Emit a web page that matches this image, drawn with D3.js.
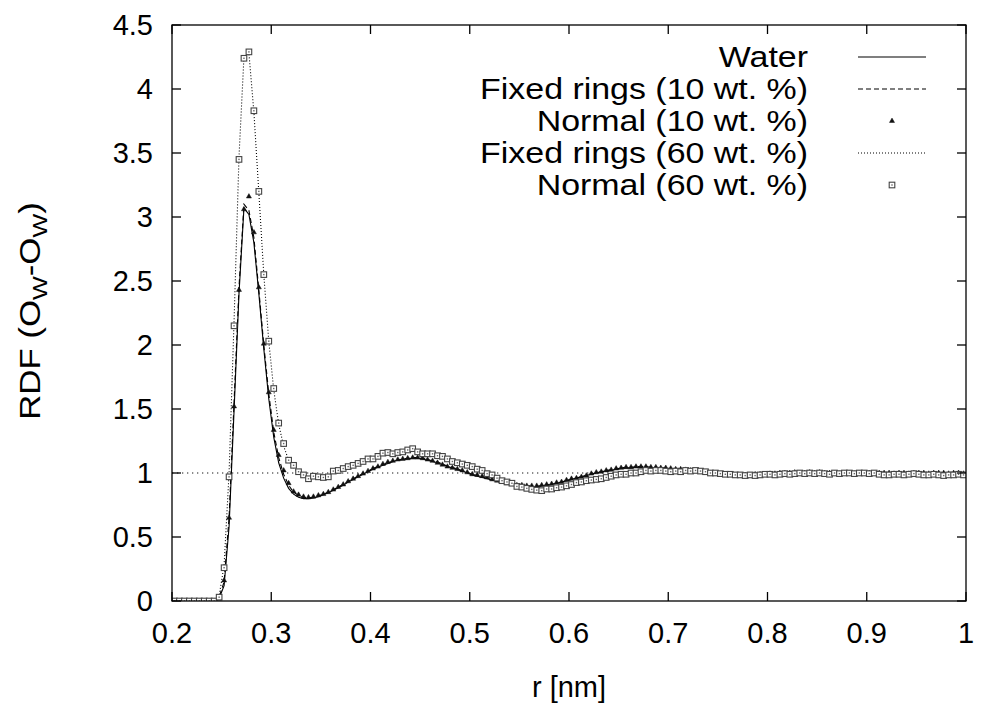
<!DOCTYPE html>
<html>
<head>
<meta charset="utf-8">
<script src="https://cdn.jsdelivr.net/npm/d3@7"></script>
<style>
  body { margin: 0; background: #fff; }
  svg { display: block; font-family: "Liberation Sans", Arial, Helvetica, sans-serif; }
</style>
</head>
<body>
<svg id="chart" width="981" height="709"></svg>
<script>
// bin centres of the RDF histogram (0.005 nm bins)
var rGrid = d3.range(160).map(function (i) { return 0.2025 + i * 0.005; });

var water = [
  0, 0, 0, 0, 0, 0, 0, 0, 0, 0.02,
  0.12, 0.58, 1.48, 2.40, 3.07, 3.02, 2.80, 2.40, 1.97, 1.58,
  1.28, 1.08, 0.96, 0.88, 0.835, 0.81, 0.80, 0.80, 0.805, 0.815,
  0.83, 0.845, 0.865, 0.885, 0.905, 0.93, 0.95, 0.97, 0.99, 1.01,
  1.03, 1.045, 1.06, 1.075, 1.09, 1.10, 1.105, 1.11, 1.115, 1.115,
  1.11, 1.10, 1.09, 1.08, 1.065, 1.05, 1.04, 1.025, 1.015, 1.0,
  0.985, 0.975, 0.965, 0.955, 0.945, 0.935, 0.925, 0.915, 0.91, 0.905,
  0.90, 0.895, 0.895, 0.895, 0.90, 0.905, 0.91, 0.92, 0.93, 0.94,
  0.95, 0.96, 0.97, 0.98, 0.99, 1.0, 1.01, 1.015, 1.02, 1.03,
  1.035, 1.04, 1.04, 1.045, 1.045, 1.045, 1.04, 1.04, 1.035, 1.035,
  1.03, 1.025, 1.025, 1.02, 1.015, 1.01, 1.005, 1.0, 1.0, 0.995,
  0.99, 0.99, 0.99, 0.985, 0.985, 0.985, 0.985, 0.985, 0.99, 0.99,
  0.99, 0.995, 0.995, 1.0, 1.0, 1.0, 1.005, 1.0, 1.005, 1.005,
  1.0, 1.0, 1.005, 1.0, 1.0, 1.0, 0.995, 1.0, 1.0, 0.995,
  1.0, 1.0, 1.0, 0.995, 1.0, 1.0, 0.995, 1.0, 1.0, 1.0,
  0.995, 1.0, 0.995, 1.0, 1.0, 0.995, 1.0, 1.0, 0.995, 1.0
];

var fixed10 = [
  0, 0, 0, 0, 0, 0, 0, 0, 0, 0.03,
  0.15, 0.65, 1.55, 2.45, 3.10, 3.05, 2.84, 2.43, 2.0, 1.62,
  1.32, 1.12, 0.99, 0.905, 0.85, 0.825, 0.81, 0.805, 0.81, 0.82,
  0.835, 0.85, 0.87, 0.89, 0.91, 0.935, 0.955, 0.975, 0.995, 1.015,
  1.035, 1.05, 1.065, 1.08, 1.09, 1.10, 1.11, 1.115, 1.12, 1.12,
  1.115, 1.105, 1.095, 1.085, 1.07, 1.055, 1.045, 1.03, 1.02, 1.005,
  0.99, 0.98, 0.97, 0.955, 0.945, 0.935, 0.925, 0.915, 0.91, 0.905,
  0.90, 0.895, 0.895, 0.895, 0.90, 0.905, 0.91, 0.92, 0.93, 0.94,
  0.95, 0.96, 0.97, 0.98, 0.99, 1.0, 1.01, 1.02, 1.025, 1.03,
  1.04, 1.045, 1.045, 1.05, 1.05, 1.05, 1.045, 1.045, 1.04, 1.04,
  1.035, 1.03, 1.025, 1.02, 1.015, 1.01, 1.005, 1.0, 1.0, 0.995,
  0.99, 0.99, 0.985, 0.985, 0.985, 0.985, 0.985, 0.99, 0.99, 0.99,
  0.995, 0.995, 1.0, 1.0, 1.0, 1.005, 1.005, 1.0, 1.005, 1.0,
  1.0, 1.005, 1.0, 1.0, 1.0, 0.995, 1.0, 1.0, 0.995, 1.0,
  1.0, 1.0, 0.995, 1.0, 1.0, 0.995, 1.0, 1.0, 1.0, 0.995,
  1.0, 0.995, 1.0, 1.0, 0.995, 1.0, 1.0, 0.995, 1.0, 1.0
];

var normal10 = [
  0, 0, 0, 0, 0, 0, 0, 0, 0, 0.02,
  0.16, 0.65, 1.52, 2.43, 3.06, 3.16, 2.88, 2.45, 2.01, 1.63,
  1.336, 1.14, 1.02, 0.92, 0.855, 0.83, 0.815, 0.81, 0.815, 0.825,
  0.835, 0.85, 0.87, 0.89, 0.91, 0.935, 0.955, 0.975, 0.995, 1.015,
  1.035, 1.05, 1.07, 1.085, 1.095, 1.105, 1.11, 1.115, 1.12, 1.12,
  1.115, 1.105, 1.095, 1.08, 1.065, 1.05, 1.04, 1.03, 1.02, 1.005,
  0.99, 0.985, 0.975, 0.965, 0.95, 0.94, 0.93, 0.92, 0.915, 0.905,
  0.905, 0.90, 0.90, 0.90, 0.905, 0.91, 0.915, 0.925, 0.93, 0.945,
  0.955, 0.96, 0.97, 0.98, 0.995, 1.005, 1.01, 1.02, 1.025, 1.035,
  1.04, 1.045, 1.045, 1.05, 1.05, 1.05, 1.045, 1.045, 1.04, 1.04,
  1.035, 1.03, 1.03, 1.025, 1.02, 1.015, 1.01, 1.005, 1.0, 0.995,
  0.99, 0.99, 0.985, 0.985, 0.985, 0.985, 0.985, 0.99, 0.99, 0.99,
  0.995, 0.995, 1.0, 1.0, 1.0, 1.005, 1.0, 1.0, 1.005, 1.0,
  1.005, 1.0, 1.0, 1.0, 0.995, 1.0, 1.0, 0.995, 1.0, 1.0,
  1.0, 0.995, 1.0, 1.0, 1.0, 0.995, 1.0, 1.0, 0.995, 1.0,
  1.0, 1.0, 0.995, 1.0, 1.0, 1.0, 0.995, 1.0, 1.0, 0.995
];

var fixed60 = [
  0, 0, 0, 0, 0, 0, 0, 0, 0, 0.04,
  0.28, 1.0, 2.18, 3.47, 4.25, 4.28, 3.82, 3.19, 2.55, 2.03,
  1.65, 1.38, 1.21, 1.10, 1.04, 1.0, 0.98, 0.97, 0.97, 0.97,
  0.975, 0.985, 1.0, 1.015, 1.03, 1.045, 1.06, 1.075, 1.09, 1.105,
  1.115, 1.13, 1.14, 1.15, 1.16, 1.165, 1.17, 1.175, 1.175, 1.17,
  1.165, 1.155, 1.145, 1.135, 1.12, 1.105, 1.09, 1.075, 1.06, 1.045,
  1.03, 1.015, 1.0, 0.985, 0.97, 0.955, 0.94, 0.93, 0.915, 0.905,
  0.895, 0.885, 0.88, 0.875, 0.875, 0.875, 0.88, 0.885, 0.89, 0.90,
  0.91, 0.92, 0.93, 0.94, 0.95, 0.955, 0.965, 0.975, 0.98, 0.99,
  0.995, 1.0, 1.005, 1.01, 1.015, 1.02, 1.02, 1.025, 1.025, 1.02,
  1.02, 1.02, 1.015, 1.015, 1.015, 1.01, 1.01, 1.005, 1.0, 1.0,
  0.995, 0.99, 0.99, 0.985, 0.985, 0.985, 0.985, 0.985, 0.99, 0.99,
  0.99, 0.99, 0.995, 0.995, 0.995, 1.0, 1.0, 1.0, 1.0, 1.0,
  1.0, 1.0, 0.995, 1.0, 1.0, 1.0, 0.995, 1.0, 1.0, 0.995,
  0.995, 0.995, 0.99, 0.99, 0.99, 0.99, 0.99, 0.99, 0.99, 0.99,
  0.99, 0.99, 0.985, 0.99, 0.985, 0.985, 0.99, 0.985, 0.99, 0.99
];

var normal60 = [
  0, 0, 0, 0, 0, 0, 0, 0, 0, 0.03,
  0.26, 0.97, 2.15, 3.45, 4.24, 4.29, 3.83, 3.2, 2.55, 2.03,
  1.66, 1.39, 1.23, 1.10, 1.06, 1.01, 0.985, 0.955, 0.975, 0.97,
  0.965, 0.97, 1.015, 1.02, 1.035, 1.05, 1.06, 1.075, 1.09, 1.11,
  1.11, 1.13, 1.155, 1.16, 1.15, 1.16, 1.165, 1.18, 1.19, 1.165,
  1.15, 1.15, 1.15, 1.135, 1.13, 1.11, 1.09, 1.08, 1.07, 1.06,
  1.05, 1.03, 1.02, 0.995, 0.985, 0.96, 0.94, 0.93, 0.92, 0.895,
  0.89, 0.88, 0.872, 0.866, 0.862, 0.875, 0.875, 0.885, 0.89, 0.90,
  0.91, 0.925, 0.93, 0.94, 0.945, 0.95, 0.955, 0.965, 0.975, 0.985,
  0.99, 0.99, 1.0, 1.0, 1.01, 1.02, 1.015, 1.02, 1.02, 1.015,
  1.01, 1.015, 1.01, 1.02, 1.015, 1.02, 1.015, 1.01, 1.0, 1.0,
  0.995, 0.99, 0.99, 0.985, 0.985, 0.98, 0.985, 0.98, 0.985, 0.99,
  0.99, 0.985, 0.99, 0.995, 0.99, 0.995, 1.0, 0.995, 1.0, 0.995,
  1.0, 0.995, 0.99, 1.0, 0.995, 1.0, 1.0, 0.995, 1.0, 1.0,
  0.995, 1.0, 0.99, 0.985, 0.985, 0.99, 0.99, 0.985, 0.99, 0.995,
  0.99, 0.985, 0.985, 0.99, 0.985, 0.98, 0.985, 0.985, 0.99, 0.985
];

var xTicks = [0.2, 0.3, 0.4, 0.5, 0.6, 0.7, 0.8, 0.9, 1];
var yTicks = [0, 0.5, 1, 1.5, 2, 2.5, 3, 3.5, 4, 4.5];

var series = [
  { name: "Water", values: water, kind: "line", dash: null },
  { name: "Fixed rings (10 wt. %)", values: fixed10, kind: "line", dash: "5,3" },
  { name: "Normal (10 wt. %)", values: normal10, kind: "triangle" },
  { name: "Fixed rings (60 wt. %)", values: fixed60, kind: "line", dash: "1,2" },
  { name: "Normal (60 wt. %)", values: normal60, kind: "square" }
];

var margin = { left: 172, right: 15, top: 25, bottom: 108 };
var svg = d3.select("#chart");
var W = +svg.attr("width"), H = +svg.attr("height");
var width = W - margin.left - margin.right;
var height = H - margin.top - margin.bottom;

var x = d3.scaleLinear().domain([0.2, 1]).range([0, width]);
var y = d3.scaleLinear().domain([0, 4.5]).range([height, 0]);

var g = svg.append("g").attr("transform", "translate(" + margin.left + "," + margin.top + ")");

g.append("defs").append("clipPath").attr("id", "clip")
  .append("rect").attr("width", width).attr("height", height);

// reference line at g(r) = 1
g.append("line")
  .attr("x1", 0).attr("x2", width)
  .attr("y1", y(1)).attr("y2", y(1))
  .attr("stroke", "#666").attr("stroke-width", 1.3)
  .attr("stroke-dasharray", "1.3,3.7");

var plot = g.append("g").attr("clip-path", "url(#clip)");

var line = d3.line()
  .x(function (d, i) { return x(rGrid[i]); })
  .y(function (d) { return y(d); });

function drawTriangle(sel) {
  sel.append("path")
    .attr("d", d3.symbol().type(d3.symbolTriangle).size(11))
    .attr("fill", "#111").attr("stroke", "#111").attr("stroke-width", 0.5);
}
function drawSquare(sel) {
  sel.append("rect")
    .attr("x", -2.8).attr("y", -2.8).attr("width", 5.6).attr("height", 5.6)
    .attr("fill", "#fff").attr("stroke", "#444").attr("stroke-width", 1.1);
  sel.append("rect")
    .attr("x", -0.7).attr("y", -0.7).attr("width", 1.4).attr("height", 1.4)
    .attr("fill", "#666");
}

series.forEach(function (s) {
  if (s.kind === "line") {
    plot.append("path")
      .datum(s.values)
      .attr("fill", "none")
      .attr("stroke", "#000")
      .attr("stroke-width", 1.1)
      .attr("stroke-dasharray", s.dash)
      .attr("d", line);
  } else {
    var pts = plot.append("g").selectAll("g")
      .data(s.values)
      .enter().append("g")
      .attr("transform", function (d, i) { return "translate(" + x(rGrid[i]) + "," + y(d) + ")"; });
    if (s.kind === "triangle") drawTriangle(pts); else drawSquare(pts);
  }
});

// frame and mirrored inward ticks
var tickLen = 9;
var frame = g.append("g").attr("stroke", "#000").attr("stroke-width", 1.3);
frame.append("rect").attr("width", width).attr("height", height).attr("fill", "none");
xTicks.forEach(function (t) {
  frame.append("line").attr("x1", x(t)).attr("x2", x(t)).attr("y1", height).attr("y2", height - tickLen);
  frame.append("line").attr("x1", x(t)).attr("x2", x(t)).attr("y1", 0).attr("y2", tickLen);
});
yTicks.forEach(function (t) {
  frame.append("line").attr("x1", 0).attr("x2", tickLen).attr("y1", y(t)).attr("y2", y(t));
  frame.append("line").attr("x1", width).attr("x2", width - tickLen).attr("y1", y(t)).attr("y2", y(t));
});

var fontSize = 29;
g.append("g").selectAll("text")
  .data(xTicks).enter().append("text")
  .attr("x", function (d) { return x(d); })
  .attr("y", height + 42)
  .attr("text-anchor", "middle")
  .attr("font-size", fontSize)
  .text(function (d) { return d3.format("")(d); });

g.append("g").selectAll("text")
  .data(yTicks).enter().append("text")
  .attr("x", -19)
  .attr("y", function (d) { return y(d); })
  .attr("dy", "0.35em")
  .attr("text-anchor", "end")
  .attr("font-size", fontSize)
  .text(function (d) { return d3.format("")(d); });

svg.append("text")
  .attr("x", margin.left + width / 2)
  .attr("y", 697)
  .attr("text-anchor", "middle")
  .attr("font-size", fontSize)
  .text("r [nm]");

var yl = svg.append("text")
  .attr("transform", "translate(40," + (margin.top + height / 2 - 2) + ") rotate(-90) scale(1.2,1)")
  .attr("text-anchor", "middle")
  .attr("font-size", fontSize);
yl.append("tspan").text("RDF (O");
yl.append("tspan").attr("font-size", 21).attr("dy", 7).text("W");
yl.append("tspan").attr("dy", -7).text("-O");
yl.append("tspan").attr("font-size", 21).attr("dy", 7).text("W");
yl.append("tspan").attr("dy", -7).text(")");

// key, top right (text is a little wider than the axis labels)
var key = svg.append("g");
var keyFont = 29, keyStretch = 1.17;
var keyTextX = 808, keyX1 = 858, keyX2 = 926, keyY0 = 57, keyStep = 32;
series.forEach(function (s, i) {
  var ky = keyY0 + i * keyStep;
  key.append("text")
    .attr("transform", "translate(" + keyTextX + "," + ky + ") scale(" + keyStretch + ",1)")
    .attr("dy", "0.35em")
    .attr("text-anchor", "end").attr("font-size", keyFont)
    .text(s.name);
  if (s.kind === "line") {
    key.append("line")
      .attr("x1", keyX1).attr("x2", keyX2).attr("y1", ky).attr("y2", ky)
      .attr("stroke", "#000").attr("stroke-width", 1.1)
      .attr("stroke-dasharray", s.dash);
  } else {
    var m = key.append("g").attr("transform", "translate(" + (keyX1 + keyX2) / 2 + "," + ky + ")");
    if (s.kind === "triangle") drawTriangle(m); else drawSquare(m);
  }
});
</script>
</body>
</html>
